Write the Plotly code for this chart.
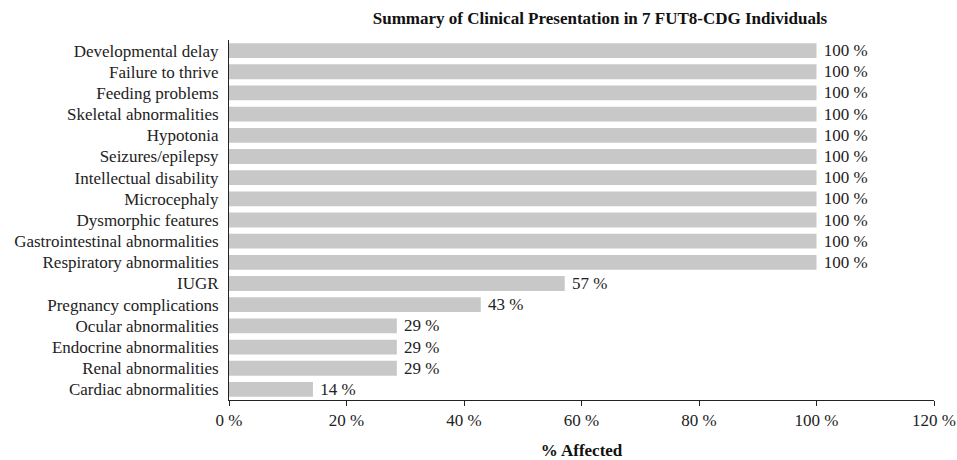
import plotly.graph_objects as go

categories = ["Developmental delay", "Failure to thrive", "Feeding problems", "Skeletal abnormalities",
              "Hypotonia", "Seizures/epilepsy", "Intellectual disability", "Microcephaly",
              "Dysmorphic features", "Gastrointestinal abnormalities", "Respiratory abnormalities",
              "IUGR", "Pregnancy complications", "Ocular abnormalities", "Endocrine abnormalities",
              "Renal abnormalities", "Cardiac abnormalities"]
values = [100, 100, 100, 100, 100, 100, 100, 100, 100, 100, 100, 57.14, 42.86, 28.57, 28.57, 28.57, 14.29]
tick_vals = [0, 20, 40, 60, 80, 100, 120]
tick_text = ["0 %", "20 %", "40 %", "60 %", "80 %", "100 %", "120 %"]

font = "Liberation Serif, Times New Roman, serif"

fig = go.Figure(go.Bar(
    x=values, y=categories, orientation="h",
    marker=dict(color="#c8c8c9", line=dict(width=0)),
    width=0.7,
    text=[f" {round(v)} %" for v in values],
    textposition="outside",
    constraintext="none",
    textfont=dict(family=font, size=17, color="#222"),
    cliponaxis=False,
))

fig.update_layout(
    width=957, height=460,
    margin=dict(l=229, r=23, t=40, b=60, autoexpand=False),
    paper_bgcolor="white", plot_bgcolor="white",
    font=dict(family=font, size=17, color="#222"),
    showlegend=False,
    title=dict(text="<b>Summary of Clinical Presentation in 7 FUT8-CDG Individuals</b>",
               x=600 / 957, xref="container", xanchor="center", y=1 - 18 / 460, yref="container", yanchor="middle",
               font=dict(family=font, size=17, color="#111")),
    xaxis=dict(range=[0, 120], tickvals=tick_vals, ticktext=tick_text, automargin=False,
               showgrid=False, zeroline=False, showline=True, linecolor="#222", linewidth=1,
               ticks="outside", ticklen=5, tickcolor="#222",
               title=dict(text="<b>% Affected</b>", font=dict(family=font, size=17, color="#111"), standoff=14)),
    yaxis=dict(autorange="reversed", showgrid=False, zeroline=False, showline=True, automargin=False,
               linecolor="#222", linewidth=1, ticks="", ticklabelstandoff=6),
    bargap=0.3,
)

fig.write_html("out.html", config={"displayModeBar": False},
               post_script="document.body.style.margin='0';")
